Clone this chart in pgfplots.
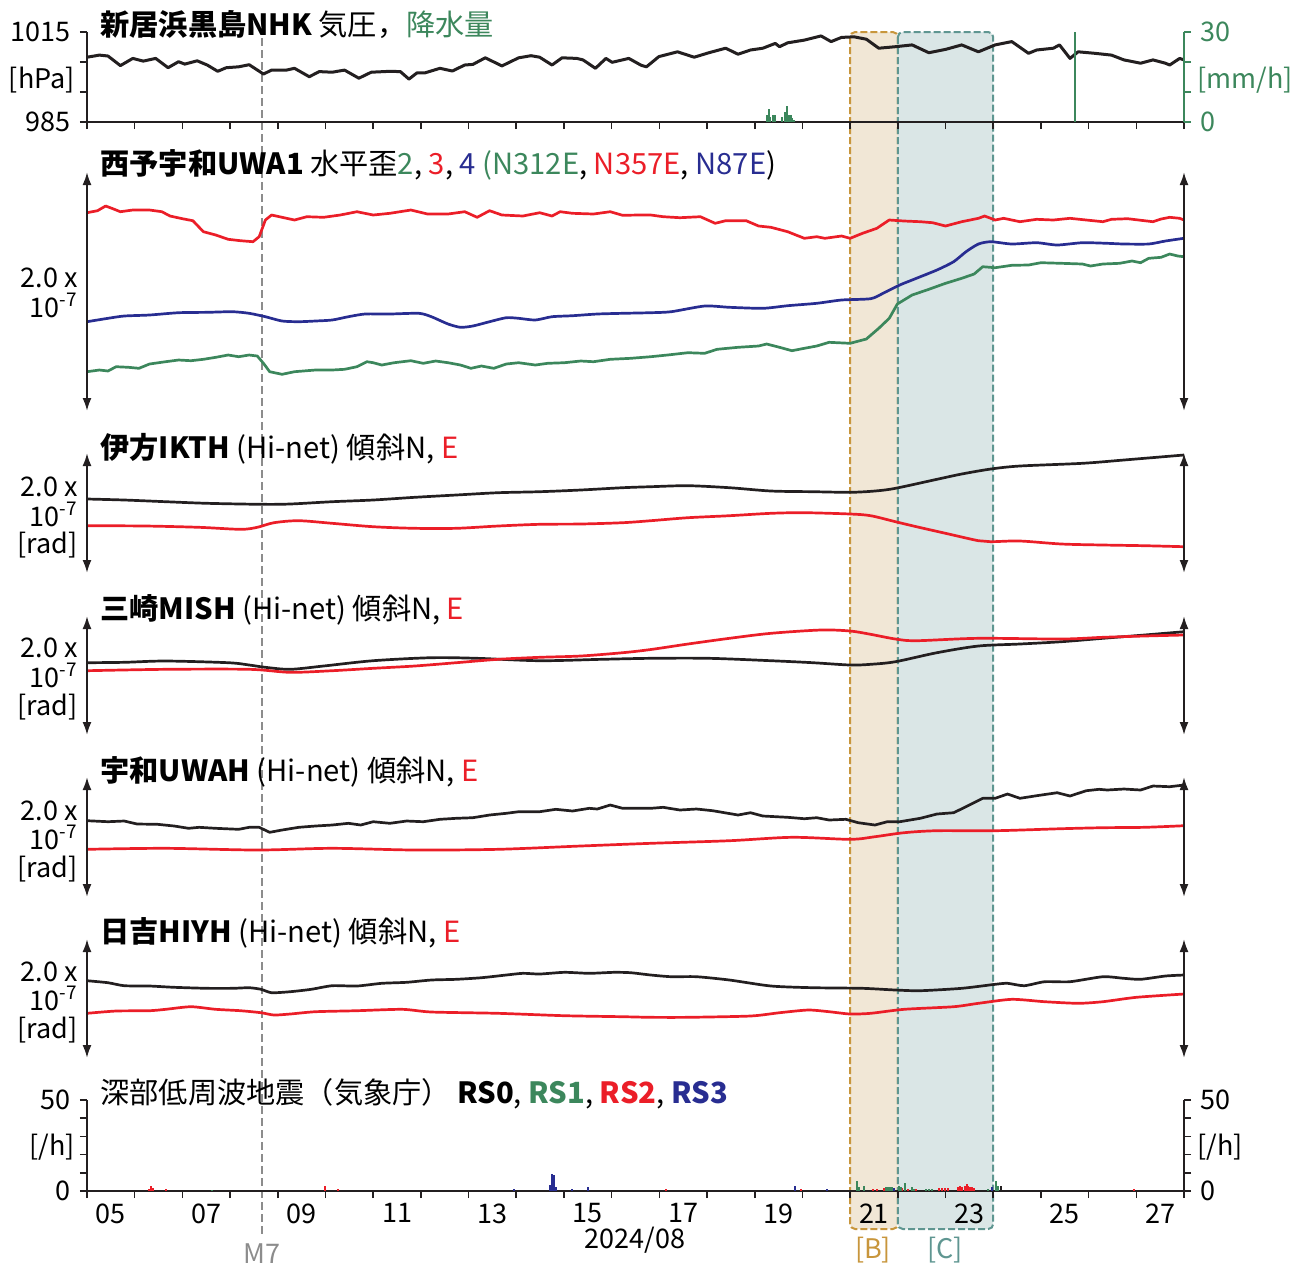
\documentclass[border=0pt]{standalone}
\usepackage{fontspec}
\setmainfont{Noto Sans CJK JP}
\usepackage{pgfplots}
\pgfplotsset{compat=1.18}
\usetikzlibrary{arrows.meta}
\definecolor{cblk}{RGB}{35,31,32}
\definecolor{cred}{RGB}{235,30,40}
\definecolor{cblu}{RGB}{40,45,145}
\definecolor{cgrn}{RGB}{60,135,92}
\definecolor{cBfill}{RGB}{241,231,214}
\definecolor{cBline}{RGB}{200,150,60}
\definecolor{cCfill}{RGB}{218,230,230}
\definecolor{cCline}{RGB}{95,150,145}
\definecolor{cgray}{RGB}{140,140,140}
\tikzset{sarrow/.style={cblk, line width=1pt, {Latex[length=6.5pt,width=4.5pt]}-{Latex[length=6.5pt,width=4.5pt]}},
  ttl/.style={anchor=base west, inner sep=0, font=\fontsize{14.6}{17}\selectfont}}
\pgfplotsset{
  panel/.style={scale only axis, width=548.5pt, xmin=5, xmax=28, anchor=north west, clip=false,
    /pgf/number format/assume math mode=true},
  hid/.style={panel, hide axis},
  frame/.style={axis line style={cblk, line width=1pt, -}, tick style={cblk, line width=0.8pt},
    tick align=outside, major tick length=3.5pt},
}
\begin{document}
\fontsize{13.5}{16}\selectfont
\begin{tikzpicture}
\path[use as bounding box] (0,0) rectangle (648pt,-633pt);
% ---------- background: intervals and M7 line
\begin{axis}[hid, at={(43.5pt,0pt)}, height=633pt, ymin=-1266, ymax=0]
\draw[cBline, line width=1pt, dash pattern=on 3.5pt off 1.5pt, rounded corners=2.5pt, fill=cBfill] (axis cs:21,-32) rectangle (axis cs:22,-1229);
\draw[cCline, line width=1pt, dash pattern=on 3.5pt off 1.5pt, rounded corners=2.5pt, fill=cCfill] (axis cs:22,-32) rectangle (axis cs:24,-1229);
\draw[cgray, line width=0.9pt, dash pattern=on 4pt off 2pt] (axis cs:8.67,-38) -- (axis cs:8.67,-1238);
\end{axis}
% ---------- panel 1: pressure
\begin{axis}[panel, frame, at={(43.5pt,-16pt)}, height=45pt, ymin=985, ymax=1015,
  axis x line*=bottom, axis y line*=left,
  xtick={5,...,28}, xticklabels={},
  ytick={985,995,1005,1015}, yticklabels={985,,,1015}]
\addplot[cblk, line width=1.5pt, line join=round] coordinates {
(5.0,1006.6)(5.26,1007.3)(5.44,1007.0)(5.70,1003.8)(5.96,1006.2)(6.18,1005.3)(6.44,1006.2)(6.70,1003.1)(6.92,1005.1)(7.05,1004.3)(7.31,1005.4)(7.52,1004.0)(7.74,1001.9)(7.92,1003.1)(8.18,1003.4)(8.40,1004.1)(8.70,1001.0)(8.87,1002.3)(9.18,1002.3)(9.35,1002.9)(9.66,1000.1)(9.87,1001.8)(10.14,1001.6)(10.40,1002.3)(10.70,999.6)(10.96,1001.6)(11.35,1001.9)(11.57,1001.8)(11.75,999.3)(11.92,1001.4)(12.09,1001.4)(12.40,1002.9)(12.66,1002.0)(12.92,1004.0)(13.09,1004.2)(13.35,1006.4)(13.70,1003.7)(14.05,1006.4)(14.31,1007.1)(14.49,1006.6)(14.75,1004.0)(14.96,1006.4)(15.27,1006.2)(15.40,1005.7)(15.66,1002.9)(15.88,1006.2)(16.01,1004.9)(16.36,1006.2)(16.62,1003.9)(16.73,1003.4)(16.99,1006.8)(17.38,1008.4)(17.73,1006.6)(18.04,1008.1)(18.39,1009.6)(18.65,1007.6)(18.91,1009.0)(19.17,1009.6)(19.43,1011.2)(19.52,1010.1)(19.69,1011.4)(20.04,1012.3)(20.39,1013.7)(20.60,1011.8)(20.82,1013.2)(21.08,1013.4)(21.34,1012.6)(21.60,1009.6)(21.95,1010.1)(22.30,1010.7)(22.65,1008.1)(23.00,1009.2)(23.34,1010.7)(23.69,1008.4)(24.04,1010.7)(24.39,1011.8)(24.74,1007.9)(24.91,1009.0)(25.26,1009.6)(25.39,1010.7)(25.61,1006.2)(25.78,1008.4)(26.13,1007.9)(26.48,1007.3)(26.74,1005.7)(27.09,1004.6)(27.35,1005.7)(27.61,1004.6)(27.70,1004.0)(27.91,1006.2)(28.0,1005.7)};
\end{axis}
\begin{axis}[panel, at={(43.5pt,-16pt)}, height=45pt, ymin=0, ymax=30,
  axis x line=none, axis y line*=right,
  axis line style={cgrn, line width=1pt, -}, tick style={cgrn, line width=0.8pt},
  tick align=outside, major tick length=3.5pt,
  ytick={0,10,20,30}, yticklabels={0,,,30}, yticklabel style={text=cgrn}]
\addplot[cgrn, ycomb, line width=1pt] coordinates {
(19.25,2.5)(19.29,4.3)(19.33,1.8)(19.38,2.3)(19.42,2.2)(19.58,1.8)(19.63,3.5)(19.67,5.3)(19.71,2.5)(19.75,2.4)(19.79,1.5)(19.83,0.8)(25.71,30)};
\end{axis}
% ---------- panel 2: strain
\begin{axis}[hid, at={(43.5pt,-86pt)}, height=119.5pt, ymin=0, ymax=239]
\addplot[cred, line width=1.35pt, line join=round] coordinates {
(5.0,198.3)(5.22,200.3)(5.39,205)(5.52,202.7)(5.70,199.3)(5.96,201)(6.31,201)(6.57,199.3)(6.74,195)(7.00,192.3)(7.22,190.3)(7.44,179.3)(7.70,176)(7.96,171.7)(8.22,170.3)(8.48,169.3)(8.61,174.3)(8.74,191)(8.87,196)(9.09,193.7)(9.35,191)(9.61,194.3)(9.96,193.7)(10.31,196)(10.66,199.3)(11.00,196)(11.35,197.7)(11.79,201)(12.14,197)(12.57,197)(12.92,199.3)(13.18,193.7)(13.44,200.3)(13.70,196)(14.14,195)(14.49,198.3)(14.75,195)(14.92,199.3)(15.18,197.7)(15.62,197)(15.97,199.3)(16.23,195.7)(16.57,196)(16.82,196)(17.08,194.3)(17.43,193.3)(17.86,194.3)(18.17,187.7)(18.39,190.3)(18.82,190.3)(19.08,185)(19.34,183.7)(19.69,179.3)(20.04,172.7)(20.30,174.3)(20.47,172.7)(20.82,175)(21.00,172.7)(21.26,177.7)(21.56,182.7)(21.82,191)(22.13,190)(22.47,189.3)(22.73,188.3)(23.00,185)(23.34,189.3)(23.69,192.7)(23.82,195)(24.04,191)(24.22,192.7)(24.56,189.3)(24.91,191.7)(25.26,191)(25.61,192.7)(25.95,191)(26.30,189.3)(26.48,191.7)(26.82,192.3)(27.17,190.3)(27.35,189.3)(27.52,192)(27.70,193.7)(27.91,192.7)(28.0,191)};
\addplot[cblu, line width=1.35pt, smooth, tension=0.4] coordinates {
(5.0,89.3)(5.44,92.7)(5.78,95)(6.31,96)(6.92,98.3)(7.52,98.7)(8.05,99.3)(8.40,97.7)(8.74,94.3)(9.09,90)(9.44,89.3)(9.79,90)(10.14,91)(10.48,94.3)(10.83,97)(11.35,97)(11.96,97.7)(12.22,94.3)(12.57,87)(12.83,83.7)(13.09,85)(13.44,89.3)(13.79,93.3)(14.05,92.7)(14.40,91)(14.75,94.3)(15.18,95.3)(15.70,97)(16.23,97.7)(16.82,98.3)(17.25,99.3)(17.95,105)(18.47,103.7)(19.17,102.7)(19.69,105.3)(20.30,107.7)(20.82,111)(21.43,112.3)(21.69,117.7)(22.04,126)(22.30,131)(22.82,141)(23.17,149.3)(23.43,159.3)(23.69,167)(23.95,169.3)(24.39,167)(24.91,168.3)(25.34,166)(25.87,168.3)(26.39,167.7)(26.74,167)(27.26,167)(27.61,170)(28.0,172.7)};
\addplot[cgrn, line width=1.35pt, line join=round] coordinates {
(5.0,39.3)(5.26,41)(5.44,40)(5.61,44.3)(5.87,43.7)(6.09,42.7)(6.31,47)(6.65,49.3)(6.92,51)(7.18,50.3)(7.44,51.7)(7.70,53.7)(7.96,56)(8.18,54.3)(8.40,56)(8.57,55)(8.70,47.7)(8.83,39.3)(9.09,36.7)(9.35,39.3)(9.79,41)(10.14,41)(10.40,41.7)(10.66,44.3)(10.87,49.3)(11.00,48.3)(11.18,46)(11.44,48.3)(11.79,50.3)(12.05,47.7)(12.31,50)(12.57,48.3)(12.83,46)(13.05,42.7)(13.27,45)(13.53,42.7)(13.79,47)(14.05,48.3)(14.40,46)(14.66,47.7)(15.01,48.3)(15.35,50)(15.62,49.3)(15.97,51.7)(16.40,52.7)(16.82,54.3)(17.17,56)(17.60,58.3)(17.95,57.7)(18.21,61.7)(18.65,63.7)(19.08,65)(19.25,67)(19.52,63.7)(19.78,60.3)(20.04,62.7)(20.30,65)(20.56,68.7)(21.00,67.7)(21.34,72)(21.60,82.7)(21.82,92.7)(21.99,107)(22.30,116)(22.65,121.7)(23.00,127.7)(23.34,132.7)(23.60,137)(23.78,144.3)(24.04,143.3)(24.39,145.7)(24.74,146)(25.00,148.3)(25.43,147.7)(25.87,147)(26.04,145)(26.30,147)(26.65,147.7)(26.91,150)(27.09,148.3)(27.26,152.7)(27.52,153.7)(27.70,157)(27.87,155)(28.0,154.3)};
\draw[sarrow] (rel axis cs:0,0) -- (rel axis cs:0,1);
\draw[sarrow] (rel axis cs:1,0) -- (rel axis cs:1,1);
\end{axis}
% ---------- panel 3: IKTH
\begin{axis}[hid, at={(43.5pt,-226.5pt)}, height=60pt, ymin=0, ymax=120]
\addplot[cblk, line width=1.35pt, smooth] coordinates {
(5.0,74)(5.78,73)(6.65,71.3)(7.52,69.7)(8.66,68.7)(9.26,69)(10.14,71.3)(11.00,73)(11.87,75.7)(12.74,78)(13.62,80.3)(14.49,81.3)(15.35,83)(16.23,85.3)(16.82,86.3)(17.60,87.3)(18.47,85.3)(19.34,82)(20.22,81.3)(21.00,80.7)(21.52,82)(21.95,84.7)(22.82,93.7)(23.34,99)(23.95,104)(24.56,107)(25.87,109.7)(26.74,113)(28.0,118)};
\addplot[cred, line width=1.35pt, smooth] coordinates {
(5.0,47.3)(6.22,47)(7.35,45.7)(8.22,43.7)(8.57,45.7)(8.92,50.3)(9.44,52.3)(10.14,49.7)(11.00,46.3)(11.87,44.7)(12.74,44.7)(13.62,47)(14.49,48.7)(15.35,49)(16.23,50.3)(16.82,52.3)(17.60,55.3)(18.47,57.3)(19.34,59.7)(20.04,60.3)(21.00,59)(21.43,57.3)(21.95,51.3)(22.39,46.3)(23.00,39.7)(23.69,32.3)(23.95,31.3)(24.56,32)(25.43,29)(26.30,28)(27.17,27.3)(28.0,26.3)};
\draw[sarrow] (rel axis cs:0,0) -- (rel axis cs:0,1);
\draw[sarrow] (rel axis cs:1,0) -- (rel axis cs:1,1);
\end{axis}
% ---------- panel 4: MISH
\begin{axis}[hid, at={(43.5pt,-308pt)}, height=59.5pt, ymin=0, ymax=119]
\addplot[cblk, line width=1.35pt, smooth] coordinates {
(5.0,72.3)(5.78,72.7)(6.65,74)(7.96,72.3)(8.40,70)(8.74,67.7)(9.26,65.7)(9.96,69)(11.00,74.3)(12.22,77.3)(13.18,76.7)(14.49,74.3)(15.79,75.7)(16.82,76.7)(18.04,76.7)(19.34,74.3)(20.22,72.3)(21.00,70)(21.43,70.7)(21.95,73.3)(22.82,82.3)(23.69,89)(24.56,91)(25.43,93.3)(26.30,96.7)(27.17,100)(28.0,103.3)};
\addplot[cred, line width=1.35pt, smooth] coordinates {
(5.0,64.3)(6.65,65.7)(8.40,65.7)(9.26,62.7)(10.14,64.3)(11.00,66.7)(11.87,69)(12.74,72.3)(13.62,75.7)(14.49,77.7)(15.35,79)(16.23,82.3)(16.82,85.5)(17.60,91)(18.47,96.7)(19.34,101.7)(20.39,105)(21.00,104)(21.43,100.7)(21.95,96)(22.39,94.3)(23.69,96.7)(25.43,96)(26.30,97.7)(27.17,99)(28.0,100)};
\draw[sarrow] (rel axis cs:0,0) -- (rel axis cs:0,1);
\draw[sarrow] (rel axis cs:1,0) -- (rel axis cs:1,1);
\end{axis}
% ---------- panel 5: UWAH
\begin{axis}[hid, at={(43.5pt,-388.5pt)}, height=60pt, ymin=0, ymax=120]
\addplot[cblk, line width=1.35pt, line join=round] coordinates {
(5.0,76.3)(5.44,75.3)(5.78,76)(6.05,73)(6.48,72.7)(6.83,71)(7.13,68.7)(7.35,69.7)(7.70,68.7)(8.18,67.7)(8.40,69.7)(8.61,69.7)(8.83,64.7)(9.09,67)(9.44,69.7)(9.79,71)(10.14,72)(10.48,73.7)(10.74,72)(11.00,75.3)(11.35,73.7)(11.70,76)(12.05,75.3)(12.40,77.7)(12.74,78.7)(13.09,79.3)(13.44,82)(13.79,83.7)(14.05,85.3)(14.49,85.3)(14.83,87.7)(15.18,86)(15.53,88.7)(15.70,88)(15.97,92)(16.23,88.7)(16.82,88.7)(17.08,89.7)(17.43,87)(17.78,88)(18.12,86.3)(18.65,82)(18.91,84.3)(19.17,81)(19.69,79.7)(20.04,78.3)(20.30,79.3)(20.56,77)(20.91,77.7)(21.17,74.3)(21.52,72)(21.78,75.3)(22.04,75.3)(22.47,78.7)(22.82,83)(23.17,84.3)(23.43,90.3)(23.78,98.7)(24.04,98.7)(24.30,103)(24.56,98.7)(24.91,101.3)(25.34,104.3)(25.61,101)(25.95,106.3)(26.22,107.7)(26.39,107)(26.74,108)(27.09,107)(27.35,111)(27.70,110.3)(28.0,112)};
\addplot[cred, line width=1.35pt, smooth] coordinates {
(5.0,47.7)(6.65,48.7)(8.57,47)(10.14,48.7)(11.87,47)(13.62,47.7)(15.35,51)(16.82,53.7)(18.47,56.3)(19.78,59.7)(21.00,57.7)(21.52,60.3)(22.13,64.3)(22.82,66.3)(24.04,66.3)(25.43,68.3)(26.30,69.3)(27.17,69.7)(28.0,71.3)};
\draw[sarrow] (rel axis cs:0,0) -- (rel axis cs:0,1);
\draw[sarrow] (rel axis cs:1,0) -- (rel axis cs:1,1);
\end{axis}
% ---------- panel 6: HIYH
\begin{axis}[hid, at={(43.5pt,-469.5pt)}, height=59.5pt, ymin=0, ymax=119]
\addplot[cblk, line width=1.35pt, smooth, tension=0.4] coordinates {
(5.0,77.3)(5.44,75.3)(5.78,72.3)(6.31,72)(6.83,70.7)(7.52,69.7)(8.05,69.7)(8.40,70.3)(8.65,68.7)(8.87,65.3)(9.26,66.3)(9.70,68.7)(10.14,72.3)(10.66,72)(11.18,74.7)(11.70,75.7)(12.22,78)(12.74,78.7)(13.27,80.3)(13.79,83)(14.14,84.7)(14.49,84)(15.01,85.7)(15.53,84.7)(16.05,85.7)(16.40,85.3)(16.82,83)(17.25,81.3)(17.78,81.3)(18.47,78)(19.34,72)(20.22,70.3)(21.26,69.7)(21.95,68)(22.47,67.3)(23.34,69.7)(24.04,73.7)(24.30,74.7)(24.65,72.3)(25.08,76.3)(25.61,76.3)(26.30,81.3)(26.74,79.7)(27.09,78.7)(27.61,82)(28.0,83)};
\addplot[cred, line width=1.35pt, smooth, tension=0.4] coordinates {
(5.0,44.7)(5.61,47)(6.31,47.3)(6.65,48.7)(7.18,51.3)(7.70,48.7)(8.22,47.3)(8.65,45.3)(8.92,43)(9.26,44)(9.79,46.3)(10.66,47.3)(11.61,48.7)(12.22,46)(13.62,44.7)(15.01,42.3)(16.23,41.3)(16.82,40.7)(17.60,40.7)(18.91,42)(19.52,45.3)(20.12,48)(20.56,46.3)(21.00,44)(21.43,44.7)(22.13,48.7)(23.17,51.3)(23.69,54.7)(24.39,58.7)(25.08,56.3)(25.78,54.7)(26.30,56.3)(27.00,60.7)(28.0,64)};
\draw[sarrow] (rel axis cs:0,0) -- (rel axis cs:0,1);
\draw[sarrow] (rel axis cs:1,0) -- (rel axis cs:1,1);
\end{axis}
% ---------- panel 7: LFE
\begin{axis}[panel, frame, at={(43.5pt,-550pt)}, height=45.5pt, ymin=0, ymax=50,
  axis x line*=bottom, axis y line*=left,
  xtick={5,...,28}, xticklabels={},
  extra x ticks={5.5,7.5,...,27.5},
  extra x tick labels={05,07,09,11,13,15,17,19,21,23,25,27},
  extra x tick style={major tick length=0pt, tick label style={yshift=-1.5pt}},
  ytick={0,10,...,50}, yticklabels={0,,,,,50}]
\addplot[cred, ycomb, line width=1pt] coordinates {
(6.30,1)(6.34,2.5)(6.38,1.5)(6.66,1.2)(9.99,2.5)(10.27,1.2)(17.13,1)(19.96,1)(21.47,1)(21.57,1)(21.71,1.5)(22.09,1.5)(22.21,1)(22.38,1)(22.86,1.5)(22.92,1.5)(22.98,1.5)(23.05,1.5)(23.27,2)(23.31,2.5)(23.35,2)(23.40,3)(23.44,4)(23.48,3)(23.52,2)(23.56,2)(23.60,1.5)(26.95,1)};
\addplot[cgrn, ycomb, line width=1pt] coordinates {
(7.63,0.8)(21.15,5.3)(21.19,2)(21.29,2.5)(21.75,2)(21.79,2)(21.83,2)(21.88,2)(22.03,3)(22.07,2)(22.15,4.5)(22.30,2)(22.34,1)(22.59,1)(22.65,1)(22.71,1)(23.88,1)(24.06,5.3)(24.10,3)};
\addplot[cblu, ycomb, line width=1pt] coordinates {
(13.96,1)(14.71,3.5)(14.75,9.5)(14.79,9)(14.83,2)(15.16,1)(15.51,2)(19.84,3)(20.52,1)(21.92,1.5)(23.98,2)};
\addplot[cblk, ycomb, line width=1pt] coordinates {(16.89,0.6)(24.16,3)};
\end{axis}
\begin{axis}[panel, at={(43.5pt,-550pt)}, height=45.5pt, ymin=0, ymax=50,
  axis x line=none, axis y line*=right,
  axis line style={cblk, line width=1pt, -}, tick style={cblk, line width=0.8pt},
  tick align=outside, major tick length=3.5pt,
  ytick={0,10,...,50}, yticklabels={0,,,,,50}]
\addplot[draw=none] coordinates {(5,0)};
\end{axis}
% ---------- texts
\node[ttl] at (50pt,-17.5pt) {\textbf{新居浜黒島NHK} 気圧，\textcolor{cgrn}{降水量}};
\node[ttl] at (50pt,-87pt) {\textbf{西予宇和UWA1} 水平歪\textcolor{cgrn}{2}, \textcolor{cred}{3}, \textcolor{cblu}{4} \textcolor{cgrn}{(N312E}, \textcolor{cred}{N357E}, \textcolor{cblu}{N87E})};
\node[ttl] at (50pt,-229pt) {\textbf{伊方IKTH} (Hi-net) 傾斜N, \textcolor{cred}{E}};
\node[ttl] at (50pt,-309.5pt) {\textbf{三崎MISH} (Hi-net) 傾斜N, \textcolor{cred}{E}};
\node[ttl] at (50pt,-390.5pt) {\textbf{宇和UWAH} (Hi-net) 傾斜N, \textcolor{cred}{E}};
\node[ttl] at (50pt,-471pt) {\textbf{日吉HIYH} (Hi-net) 傾斜N, \textcolor{cred}{E}};
\node[ttl] at (50pt,-551.5pt) {深部低周波地震（気象庁） \textbf{RS0}, \textcolor{cgrn}{\textbf{RS1}}, \textcolor{cred}{\textbf{RS2}}, \textcolor{cblu}{\textbf{RS3}}};
% scale labels
\node[anchor=base east, inner sep=0] at (39pt,-143.5pt) {2.0 x};
\node[anchor=base east, inner sep=0] at (39pt,-158.5pt) {10\textsuperscript{-7}};
\foreach \ya/\yb/\yc in {248/263/276.5, 328.5/343.5/357.5, 410/424.5/438.5, 490.5/505/519}{
  \node[anchor=base east, inner sep=0] at (39pt,-\ya pt) {2.0 x};
  \node[anchor=base east, inner sep=0] at (39pt,-\yb pt) {10\textsuperscript{-7}};
  \node[anchor=base east, inner sep=0] at (39pt,-\yc pt) {[rad]};
}
\node[anchor=base east, inner sep=0] at (37.5pt,-44pt) {[hPa]};
\node[anchor=base west, inner sep=0, text=cgrn] at (598.5pt,-44pt) {[mm/h]};
\node[anchor=base east, inner sep=0] at (37.5pt,-577.5pt) {[/h]};
\node[anchor=base west, inner sep=0] at (598.5pt,-577.5pt) {[/h]};
\node[anchor=base, inner sep=0] at (317.5pt,-624pt) {2024/08};
\node[anchor=base, inner sep=0, text=cgray] at (131pt,-631.5pt) {M7};
\node[anchor=base, inner sep=0, text=cBline] at (436.5pt,-629pt) {[B]};
\node[anchor=base, inner sep=0, text=cCline] at (472.5pt,-629pt) {[C]};
\end{tikzpicture}
\end{document}
